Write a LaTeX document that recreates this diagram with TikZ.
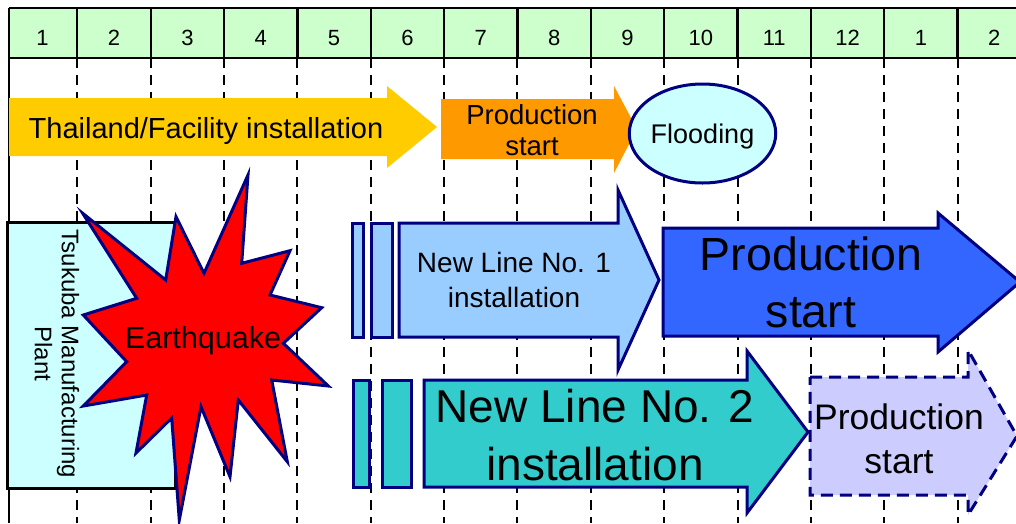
\documentclass[tikz,border=0pt]{standalone}
\usepackage{fontspec}
\setmainfont{Liberation Sans}
\usepackage{tikz}
\usetikzlibrary{shapes.geometric}

\definecolor{navy}{HTML}{000080}
\definecolor{monthgreen}{HTML}{CCFFCC}
\definecolor{gold}{HTML}{FFCC00}
\definecolor{amber}{HTML}{FF9900}
\definecolor{paleaqua}{HTML}{CCFFFF}
\definecolor{skyblue}{HTML}{99CCFF}
\definecolor{royal}{HTML}{3366FF}
\definecolor{lineteal}{HTML}{33CCCC}
\definecolor{lilac}{HTML}{CCCCFF}

\begin{document}
\begin{tikzpicture}[
    x=1pt, y=-1pt,
    every node/.style={inner sep=0pt, align=center},
    month/.style={font=\fontsize{22}{26}\selectfont, anchor=base},
    rule/.style={line width=2.2pt},
    grid/.style={line width=2pt, dash pattern=on 10pt off 7pt},
    navyline/.style={draw=navy, line width=3pt},
    plan/.style={navyline, fill=lilac, dash pattern=on 12pt off 7pt},
    burst/.style={navyline, fill=red},
    txt/.style={font=\fontsize{#1}{#1}\selectfont},
  ]
    \useasboundingbox (0,0) rectangle (1016,523);
    \clip (0,0) rectangle (1016,523);

    % --- month header + grid ---
    \fill[monthgreen] (9,8) rectangle (1030,58);
    \draw[rule] (9,8) -- (1030,8);
    \draw[rule] (9,58) -- (1030,58);
    \draw[rule] (9,8) -- (9,523);
    \foreach \k in {1,...,13} {
      \draw[rule] ({4+73.35*\k},8) -- ({4+73.35*\k},58);
      \draw[grid] ({4+73.35*\k},58) -- ({4+73.35*\k},523);
    }
    \foreach \m [count=\i] in {1,2,3,4,5,6,7,8,9,10,11,12,1,2}
      \node[month] (m\i) at ({\i==1 ? 42.5 : 4+73.35*(\i-0.5)},45) {\m};

    % --- Thailand row ---
    \fill[gold] (9,98) -- (387,98) -- (387,86) -- (437,127) -- (387,168) -- (387,156) -- (9,156) -- cycle;
    \node[txt=29, anchor=base] (thai) at (206,138.3) {Thailand/Facility installation};
    \fill[amber] (441,99) -- (614,99) -- (614,86) -- (637,129) -- (614,173) -- (614,159) -- (441,159) -- cycle;
    \node[font=\fontsize{27.5}{31}\selectfont] (thaistart) at (532,130.6) {Production\\start};
    \node[ellipse, draw=navy, line width=3pt, fill=paleaqua, minimum width=137pt,
      minimum height=99pt, font=\fontsize{27}{27}\selectfont, text depth=0pt]
      (flood) at (702.5,133.5) {Flooding};

    % --- Tsukuba plant + earthquake ---
    \draw[line width=3pt, fill=paleaqua] (7,222) rectangle (175,488);
    \node[rotate=-90, font=\fontsize{24}{27}\selectfont] (tsukuba) at (57,354)
      {Tsukuba Manufacturing\\Plant};
    \draw[burst] (248,175) -- (241.7,263.3) -- (290,250.7) -- (270,295) -- (321.7,307.7)
      -- (283.3,343.3) -- (328.3,386) -- (271.7,380) -- (287.3,461.7) -- (238.3,400)
      -- (230,476.7) -- (201,406.7) -- (179.3,520) -- (171.7,418) -- (136,453)
      -- (146.7,395) -- (83.3,406) -- (126.7,361.7) -- (83.3,315) -- (136.7,298.3)
      -- (82.7,213.3) -- (165.7,280) -- (176,216.7) -- (204,273.3) -- cycle;
    \node[txt=30.5, anchor=base] (quake) at (203,348) {Earthquake};

    % --- new line no. 1 ---
    \draw[navyline, fill=skyblue] (352,223) rectangle (363,337);
    \draw[navyline, fill=skyblue] (371,223) rectangle (392,337);
    \draw[navyline, fill=skyblue] (399,223) -- (618,223) -- (618,190) -- (659,280)
      -- (618,370) -- (618,337) -- (399,337) -- cycle;
    \node[font=\fontsize{28}{35}\selectfont] (line1) at (514,280.4) {New Line No. 1\\installation};
    \draw[navyline, fill=royal] (663,228) -- (938,228) -- (938,213) -- (1020,282)
      -- (938,352) -- (938,336) -- (663,336) -- cycle;
    \node[font=\fontsize{46.5}{57}\selectfont] (line1start) at (811,282.8) {Production\\start};

    % --- new line no. 2 ---
    \draw[navyline, fill=lineteal] (353,380) rectangle (369,487);
    \draw[navyline, fill=lineteal] (382,380) rectangle (411,487);
    \draw[navyline, fill=lineteal] (424,380) -- (747,380) -- (747,351) -- (808,432)
      -- (747,513) -- (747,487) -- (424,487) -- cycle;
    \node[font=\fontsize{46}{58}\selectfont] (line2) at (595,434.6) {New Line No. 2\\installation};
    \draw[plan] (810,377) -- (968,377) -- (968,350) -- (1017,436) -- (968,515)
      -- (968,495) -- (810,495) -- cycle;
    \node[font=\fontsize{35.5}{43.5}\selectfont] (line2start) at (899,438.6) {Production\\start};
\end{tikzpicture}
\end{document}
